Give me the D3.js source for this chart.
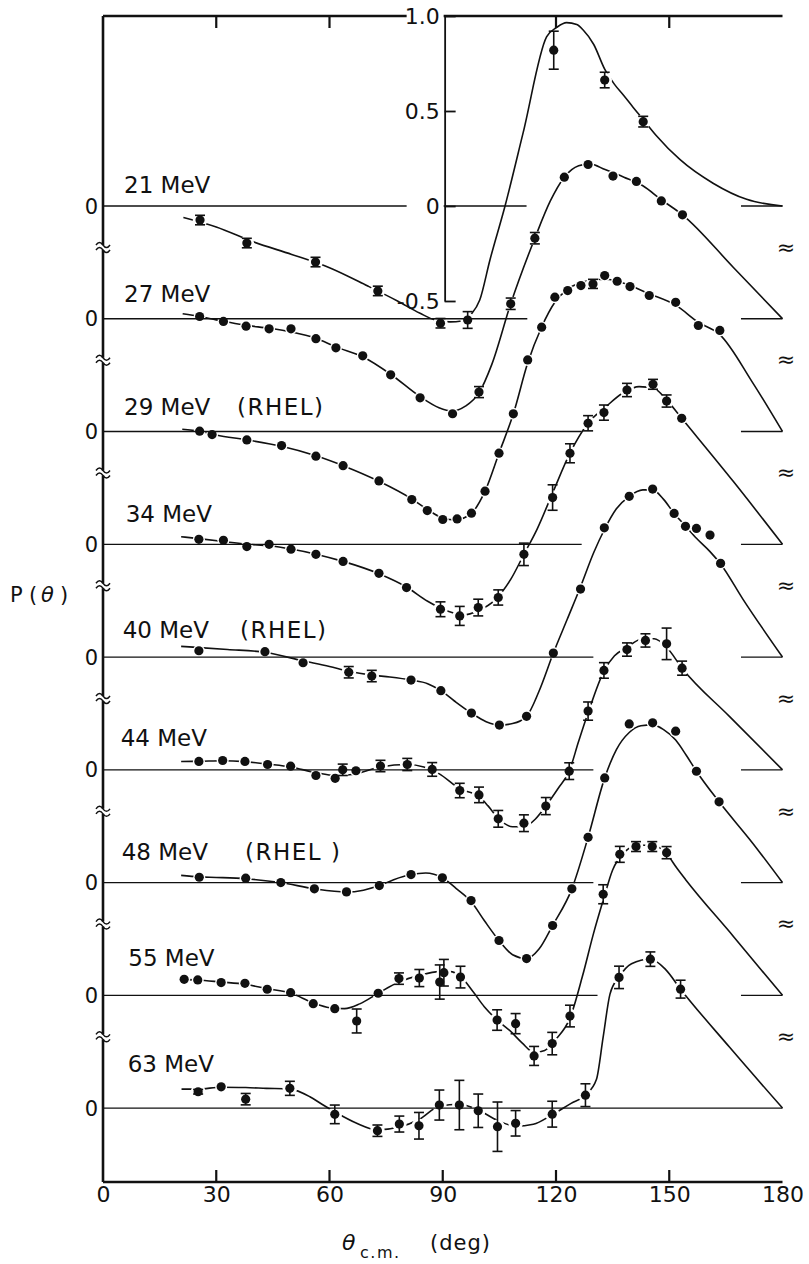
<!DOCTYPE html>
<html>
<head>
<meta charset="utf-8">
<script src="https://cdn.jsdelivr.net/npm/d3@7"></script>
<style>
  body { margin: 0; background: #fff; }
  svg text { font-family: "DejaVu Sans", "Liberation Sans", sans-serif; fill: #111; }
</style>
</head>
<body>
<svg width="809" height="1264"></svg>
<script>
// measured points: [theta c.m. (deg), P, error bar half height (0 = none)]
var pts21 = [[25.7,-0.074,0.025],[38.1,-0.195,0.025],[56.3,-0.295,0.025],[72.8,-0.447,0.025],[89.4,-0.617,0.025],
  [96.6,-0.600,0.044],[119.4,0.820,0.10],[132.9,0.663,0.041],[143.1,0.444,0.028]];
var pts27 = [[25.6,0.012,0],[31.9,-0.014,0],[37.9,-0.039,0],[44.0,-0.053,0],[49.8,-0.053,0],[56.4,-0.105,0],
  [61.7,-0.153,0],[68.8,-0.195,0],[76.2,-0.295,0],[84.0,-0.416,0],[92.6,-0.500,0],[99.6,-0.386,0.029],
  [108.0,0.079,0.03],[114.4,0.424,0.03],[122.2,0.745,0],[128.5,0.812,0],[135.1,0.751,0],[141.3,0.723,0],
  [147.9,0.620,0],[153.5,0.547,0]];
var pts29 = [[25.6,0.002,0],[28.9,-0.016,0],[38.1,-0.044,0],[47.3,-0.074,0],[56.4,-0.13,0],[63.6,-0.18,0],
  [73.1,-0.26,0],[81.8,-0.358,0],[85.9,-0.416,0],[90.0,-0.463,0],[93.8,-0.46,0],[97.6,-0.43,0],[101.2,-0.314,0],
  [104.9,-0.114,0],[108.7,0.093,0],[112.5,0.377,0],[116.2,0.549,0],[119.7,0.707,0],[123.1,0.742,0],
  [126.6,0.768,0],[129.8,0.777,0.024],[132.9,0.821,0],[136.2,0.791,0],[139.6,0.763,0],[144.7,0.716,0],
  [151.7,0.68,0],[157.7,0.558,0],[163.4,0.532,0]];
var pts34 = [[25.4,0.026,0],[31.9,0.021,0],[38.1,-0.012,0],[44.0,0.0,0],[49.8,-0.026,0],[56.4,-0.053,0],
  [63.6,-0.09,0],[73.1,-0.153,0],[80.4,-0.228,0],[89.4,-0.342,0.039],[94.5,-0.377,0.05],[99.4,-0.333,0.044],
  [104.7,-0.28,0.04],[111.5,-0.053,0.059],[119.1,0.246,0.067],[123.7,0.479,0.05],[128.5,0.637,0.04],
  [132.7,0.693,0.04],[138.8,0.812,0.035],[145.7,0.842,0.026],[149.3,0.754,0.032],[153.3,0.663,0]];
var pts40 = [[25.4,0.033,0],[42.9,0.028,0],[53.0,-0.03,0],[65.1,-0.08,0.03],[71.2,-0.10,0.03],[81.6,-0.121,0],
  [89.5,-0.177,0],[97.6,-0.295,0],[105.0,-0.358,0],[112.2,-0.312,0],[119.3,0.021,0],[126.5,0.358,0],
  [132.8,0.68,0],[139.4,0.846,0],[145.6,0.884,0],[151.3,0.756,0],[154.3,0.688,0],[157.2,0.677,0],
  [160.8,0.642,0],[163.6,0.493,0]];
var pts44 = [[25.4,0.044,0],[31.7,0.049,0],[37.6,0.044,0],[43.6,0.028,0],[49.7,0.019,0],[56.4,-0.03,0],
  [61.5,-0.045,0],[63.5,0.0,0.03],[67.0,-0.005,0],[73.5,0.02,0.03],[80.6,0.028,0.032],[87.2,0.002,0.036],
  [94.5,-0.109,0.038],[99.6,-0.132,0.041],[104.7,-0.258,0.044],[111.5,-0.281,0.044],[117.3,-0.191,0.045],
  [123.5,-0.007,0.044],[128.5,0.309,0.048],[132.7,0.523,0.041],[138.8,0.633,0.035],[143.7,0.681,0.035],
  [149.3,0.663,0.083],[153.4,0.535,0.037]];
var pts48 = [[25.5,0.028,0],[37.8,0.023,0],[47.1,0.0,0],[56.0,-0.033,0],[64.5,-0.049,0],[73.2,-0.016,0],
  [81.6,0.042,0],[89.9,0.025,0],[97.5,-0.095,0],[104.9,-0.305,0],[112.2,-0.40,0],[119.1,-0.226,0],
  [124.2,-0.033,0],[128.5,0.238,0],[132.9,0.551,0],[139.4,0.835,0],[145.6,0.841,0],[151.7,0.797,0],
  [157.2,0.586,0],[163.2,0.425,0]];
var pts55 = [[21.5,0.084,0],[25.1,0.081,0],[31.3,0.067,0],[37.6,0.063,0],[43.5,0.032,0],[49.7,0.014,0],
  [55.7,-0.044,0],[61.4,-0.07,0],[67.2,-0.135,0.063],[72.9,0.011,0],[78.4,0.088,0.03],[83.8,0.091,0.045],
  [89.2,0.07,0.09],[90.3,0.119,0.07],[94.7,0.096,0.057],[104.4,-0.13,0.054],[109.3,-0.149,0.053],
  [114.2,-0.319,0.05],[119.0,-0.254,0.059],[123.7,-0.109,0.057],[132.5,0.532,0.05],[136.9,0.742,0.042],
  [141.2,0.783,0.026],[145.5,0.783,0.026],[149.3,0.751,0.032]];
var pts63 = [[25.2,0.086,0.012],[31.3,0.112,0],[37.8,0.047,0.03],[49.5,0.104,0.037],[61.4,-0.033,0.049],
  [72.7,-0.119,0.03],[78.5,-0.084,0.042],[83.7,-0.093,0.07],[89.1,0.016,0.079],[94.4,0.016,0.13],
  [99.4,-0.014,0.088],[104.5,-0.098,0.13],[109.3,-0.08,0.067],[119.0,-0.032,0.068],[127.8,0.068,0.06],
  [136.7,0.688,0.059],[145.0,0.784,0.038],[153.0,0.626,0.047]];

// theory curves: [theta, P]
var fit21 = [[21.3,-0.06],[30,-0.11],[40,-0.19],[50,-0.255],[60,-0.325],[70,-0.42],[78,-0.5],[84,-0.565],
  [88,-0.6],[92,-0.61],[95,-0.605],[97.5,-0.57],[99.8,-0.495],[102.5,-0.284],[106.5,0.0],[111.3,0.386],
  [117.5,0.89],[120.2,0.94],[122.8,0.965],[125.5,0.955],[127.2,0.926],[130,0.85],[132.9,0.72],[135.5,0.64],
  [138,0.58],[140.4,0.52],[143.1,0.455],[146.6,0.37],[152.8,0.245],[161.6,0.12],[170.5,0.035],[180,0]];
var fit27 = [[21.1,0.026],[25.6,0.012],[30,-0.006],[37.9,-0.035],[44,-0.05],[50,-0.07],[56.4,-0.103],
  [61.7,-0.148],[68.8,-0.2],[76.2,-0.292],[84,-0.41],[89,-0.468],[92.5,-0.485],[96,-0.46],[99.6,-0.39],
  [103,-0.24],[108,0.079],[114.4,0.424],[118.5,0.62],[122.2,0.745],[126,0.805],[129,0.815],[133,0.785],
  [138,0.745],[143,0.7],[148,0.625],[153.5,0.547],[167,0.27],[180,0]];
var fit29 = [[21,0.012],[25.6,0.002],[30,-0.018],[38.1,-0.044],[47.3,-0.078],[56.4,-0.128],[63.6,-0.18],
  [73.1,-0.262],[81.8,-0.355],[85.9,-0.41],[90,-0.455],[93.5,-0.465],[97.6,-0.43],[101.2,-0.314],
  [104.9,-0.114],[108.7,0.093],[112.5,0.36],[116.2,0.55],[119.7,0.68],[123.1,0.75],[127,0.785],[131,0.8],
  [134,0.8],[138,0.78],[144.7,0.725],[151.7,0.665],[157.7,0.575],[163.4,0.51],[172,0.26],[180,0]];
var fit34 = [[20.7,0.04],[25.4,0.03],[31.9,0.015],[38.1,0.0],[44,-0.008],[49.8,-0.025],[56.4,-0.052],
  [63.6,-0.09],[73.1,-0.155],[80.4,-0.225],[86,-0.3],[91,-0.35],[95.5,-0.372],[99.4,-0.35],[104,-0.29],
  [108,-0.185],[111.5,-0.053],[115,0.08],[119.1,0.27],[123.7,0.48],[128.5,0.637],[133,0.72],[138,0.8],
  [142,0.83],[146,0.82],[149.3,0.76],[153.3,0.663],[167,0.33],[180,0]];
var fit40 = [[20.7,0.056],[25.4,0.05],[33,0.04],[42.9,0.025],[53,-0.02],[60,-0.05],[65.1,-0.075],
  [71.2,-0.095],[76,-0.105],[81.6,-0.121],[86,-0.14],[89.5,-0.177],[93,-0.23],[97.6,-0.295],[101.5,-0.34],
  [105,-0.358],[108.5,-0.35],[112.2,-0.312],[115.5,-0.18],[119.3,0.021],[123,0.2],[126.5,0.37],[130,0.55],
  [132.8,0.67],[136,0.78],[139.4,0.846],[143,0.88],[145.6,0.88],[148.5,0.83],[151.3,0.756],[154.3,0.69],
  [157.2,0.625],[160.8,0.555],[163.6,0.49],[169.5,0.305],[180,0]];
var fit44 = [[20.7,0.044],[25.4,0.045],[31.7,0.048],[37.6,0.043],[43.6,0.03],[49.7,0.015],[56.4,-0.015],
  [61.5,-0.03],[66,-0.025],[73.5,0.015],[80.6,0.028],[85,0.015],[89,-0.02],[94.5,-0.1],[99.6,-0.14],
  [102,-0.19],[104.7,-0.255],[108.5,-0.3],[111.5,-0.3],[114.5,-0.26],[117.3,-0.191],[120.5,-0.1],
  [123.5,-0.007],[126,0.15],[128.5,0.3],[132.7,0.52],[135.5,0.6],[138.8,0.645],[143,0.69],[146,0.69],
  [149.3,0.645],[153.4,0.535],[166,0.28],[180,0]];
var fit48 = [[20.7,0.038],[25.5,0.03],[30,0.027],[37.8,0.02],[47.1,0.0],[56,-0.033],[64.5,-0.05],[69,-0.04],
  [73.2,-0.016],[77,0.015],[81.6,0.042],[85.5,0.05],[89.9,0.025],[93.5,-0.03],[97.5,-0.1],[101,-0.2],
  [104.9,-0.305],[108.5,-0.38],[112.2,-0.4],[115.5,-0.35],[119.1,-0.226],[124.2,-0.033],[128.5,0.238],
  [132.9,0.551],[136,0.7],[139.4,0.79],[142.5,0.825],[145.6,0.83],[148.5,0.805],[151.7,0.75],[154.5,0.67],
  [157.2,0.586],[163.2,0.425],[172,0.21],[180,0]];
var fit55 = [[20.8,0.084],[25.1,0.081],[31.3,0.07],[37.6,0.058],[43.5,0.035],[49.7,0.012],[55.7,-0.04],
  [60,-0.065],[64,-0.07],[68,-0.045],[72.9,0.011],[78.4,0.07],[83.8,0.105],[89,0.125],[92,0.125],[94.7,0.1],
  [98,0.02],[101,-0.06],[104.4,-0.13],[108,-0.19],[111,-0.25],[114.2,-0.3],[117,-0.29],[120,-0.23],
  [123.7,-0.12],[127,0.1],[130,0.33],[132.5,0.5],[135,0.66],[138,0.75],[141.5,0.79],[145.5,0.79],
  [149.3,0.745],[152,0.67],[154.3,0.61],[167,0.31],[180,0]];
var fit63 = [[20.8,0.1],[25.2,0.1],[31.3,0.11],[37.8,0.108],[43.3,0.104],[49.5,0.1],[54.8,0.06],[58,0.02],
  [61.4,-0.02],[67.2,-0.08],[72.7,-0.115],[78.5,-0.1],[83.7,-0.06],[89.1,0.01],[94.4,0.02],[99.4,-0.01],
  [104.5,-0.065],[109.3,-0.095],[114,-0.085],[119,-0.035],[124,0.025],[127.8,0.068],[130.7,0.15],
  [132.5,0.375],[134.3,0.6],[136.7,0.69],[140,0.76],[145,0.785],[149,0.73],[153,0.626],[166,0.32],[180,0]];

var energies = ["21 MeV", "27 MeV", "29 MeV", "34 MeV", "40 MeV", "44 MeV", "48 MeV", "55 MeV", "63 MeV"];
var sources = ["", "", "(RHEL)", "", "(RHEL)", "", "(RHEL )", "", ""];
var xTicks = [0, 30, 60, 90, 120, 150, 180];
var bottomMarks = [30, 60, 90, 120, 150];
var topMarks = [30, 60, 120, 150];
var insetTicks = [1.0, 0.5, 0, -0.5];
var insetLabels = ["1.0", "0.5", "0", "-0.5"];

var points = [pts21, pts27, pts29, pts34, pts40, pts44, pts48, pts55, pts63];
var fits = [fit21, fit27, fit29, fit34, fit40, fit44, fit48, fit55, fit63];

// layout of the stacked panels
var labelX = [124, 124, 124, 125.7, 122.7, 120.7, 121.7, 128.3, 127.7];
var labelRise = [13, 17, 17, 22, 19, 24, 23, 29, 36];
var sourceX = [0, 0, 237, 0, 240, 0, 245, 0, 0];
var zeroCut = [112.2, 112.4, 126.8, 126.8, 129.9, 129.9, 129.9, 131, 180];
var zeroResume = 169;
var ink = "#111";

var svg = d3.select("svg");
var x = d3.scaleLinear().domain([0, 180]).range([103, 782.5]);
var y = d3.scaleLinear().domain([-5.137, 1]).range([1182, 16]);
var step = 0.5935;   // shift between successive energies, in units of P
function yp(p, i) { return y(p - i * step); }

// each curve is broken around its own data points
var defs = svg.append("defs");
points.forEach(function(pts, i) {
  var m = defs.append("mask").attr("id", "gap" + i).attr("maskUnits", "userSpaceOnUse")
      .attr("x", 0).attr("y", 0).attr("width", 809).attr("height", 1264);
  m.append("rect").attr("width", 809).attr("height", 1264).attr("fill", "#fff");
  m.selectAll("circle").data(pts).enter().append("circle")
      .attr("cx", function(d) { return x(d[0]); })
      .attr("cy", function(d) { return yp(d[1], i); })
      .attr("r", function(d) { return d[2] ? 7.3 : 6; })
      .attr("fill", "#000");
});

// zero lines
var zg = svg.append("g").attr("stroke", ink).attr("stroke-width", 1.3);
energies.forEach(function(e, i) {
  var segs = zeroCut[i] >= 180 ? [[0, 180]] : [[0, zeroCut[i]], [zeroResume, 180]];
  segs.forEach(function(s) {
    zg.append("line")
        .attr("x1", x(s[0])).attr("x2", x(s[1]))
        .attr("y1", yp(0, i)).attr("y2", yp(0, i));
  });
});

// curves
var line = d3.line().curve(d3.curveMonotoneX).x(function(d) { return x(d[0]); });
fits.forEach(function(f, i) {
  svg.append("path").datum(f)
      .attr("d", line.y(function(d) { return yp(d[1], i); }))
      .attr("fill", "none")
      .attr("stroke", ink)
      .attr("stroke-width", 1.6)
      .attr("mask", "url(#gap" + i + ")");
});

// frame: left axis, top line, bottom axis
var frame = svg.append("g").attr("stroke", ink).attr("stroke-width", 2.6);
frame.append("line").attr("x1", x(0)).attr("x2", x(0)).attr("y1", 16).attr("y2", 1182);
frame.append("line").attr("x1", x(0)).attr("x2", x(180)).attr("y1", 16).attr("y2", 16);
frame.append("line").attr("x1", x(0)).attr("x2", x(180)).attr("y1", 1182).attr("y2", 1182);

var marks = svg.append("g").attr("stroke", ink).attr("stroke-width", 2.2);
marks.selectAll(".tb").data(bottomMarks).enter().append("line").attr("class", "tb")
    .attr("x1", function(d) { return x(d); }).attr("x2", function(d) { return x(d); })
    .attr("y1", 1182).attr("y2", 1170);
marks.selectAll(".tt").data(topMarks).enter().append("line").attr("class", "tt")
    .attr("x1", function(d) { return x(d); }).attr("x2", function(d) { return x(d); })
    .attr("y1", 16).attr("y2", 28);

var gx = svg.append("g").attr("transform", "translate(0,1182)")
    .call(d3.axisBottom(x).tickValues(xTicks).tickSize(0).tickPadding(4));
gx.select(".domain").remove();
gx.selectAll(".tick text").attr("font-size", 22).attr("font-family", null).attr("fill", ink);

// inset scale for the 21 MeV curve
var yInset = d3.scaleLinear().domain([-0.5, 1]).range([yp(-0.5, 0), yp(1, 0)]);
var gIn = svg.append("g").attr("transform", "translate(" + x(90.5) + ",0)")
    .call(d3.axisLeft(yInset).tickValues(insetTicks).tickSize(-11).tickSizeOuter(0).tickPadding(5)
      .tickFormat(function(d, k) { return insetLabels[k]; }));
gIn.select(".domain").attr("stroke", ink).attr("stroke-width", 1.8);
gIn.selectAll(".tick line").attr("stroke", ink).attr("stroke-width", 1.8);
gIn.selectAll(".tick").filter(function(d) { return d === 1 || d === 0; })
    .insert("rect", "text").attr("x", -38).attr("y", -11).attr("width", 37).attr("height", 22).attr("fill", "#fff");
gIn.selectAll(".tick text").attr("font-size", 22).attr("font-family", null).attr("fill", ink);

// data points with error bars
points.forEach(function(pts, i) {
  var g = svg.append("g");
  var eb = g.selectAll(".eb").data(pts.filter(function(d) { return d[2] > 0; })).enter().append("g")
      .attr("stroke", ink).attr("stroke-width", 1.6);
  eb.append("line")
      .attr("x1", function(d) { return x(d[0]); }).attr("x2", function(d) { return x(d[0]); })
      .attr("y1", function(d) { return yp(d[1] + d[2], i); })
      .attr("y2", function(d) { return yp(d[1] - d[2], i); });
  [1, -1].forEach(function(s) {
    eb.append("line")
        .attr("x1", function(d) { return x(d[0]) - 5; }).attr("x2", function(d) { return x(d[0]) + 5; })
        .attr("y1", function(d) { return yp(d[1] + s * d[2], i); })
        .attr("y2", function(d) { return yp(d[1] + s * d[2], i); });
  });
  g.selectAll("circle").data(pts).enter().append("circle")
      .attr("cx", function(d) { return x(d[0]); })
      .attr("cy", function(d) { return yp(d[1], i); })
      .attr("r", 4.6)
      .attr("fill", ink);
});

// energy labels, zero labels and break marks
energies.forEach(function(e, i) {
  var z = yp(0, i);
  svg.append("text").attr("x", labelX[i]).attr("y", z - labelRise[i])
      .attr("font-size", 23).text(e);
  if (sources[i]) {
    svg.append("text").attr("x", sourceX[i]).attr("y", z - labelRise[i])
        .attr("font-size", 23).attr("letter-spacing", 1.5).text(sources[i]);
  }
  svg.append("text").attr("x", 98).attr("y", z).attr("dy", "0.36em")
      .attr("text-anchor", "end").attr("font-size", 21).text("0");
  if (i < energies.length - 1) {
    var b = z + 41;
    svg.append("rect").attr("x", x(0) - 3).attr("y", b - 2).attr("width", 6).attr("height", 5).attr("fill", "#fff");
    [-2, 3].forEach(function(o) {
      svg.append("path")
          .attr("d", "M" + (x(0) - 7) + "," + (b + o) + " q3.5,-5 7,0 t7,0")
          .attr("fill", "none").attr("stroke", ink).attr("stroke-width", 1.5);
    });
    svg.append("text").attr("x", 786).attr("y", b).attr("dy", "0.35em")
        .attr("text-anchor", "middle").attr("font-size", 22).text("\u2248");
  }
});

// axis titles
var pl = svg.append("text").attr("x", 10).attr("y", 602).attr("font-size", 21);
pl.append("tspan").text("P");
pl.append("tspan").attr("x", 29).text("(");
pl.append("tspan").attr("x", 41).attr("font-style", "italic").text("\u03b8");
pl.append("tspan").attr("x", 60).text(")");

var xt = svg.append("text").attr("x", 342).attr("y", 1250).attr("font-size", 22);
xt.append("tspan").attr("font-style", "italic").text("\u03b8");
xt.append("tspan").attr("x", 360).attr("dy", 8).attr("font-size", 16).attr("letter-spacing", 1.5).text("c.m.");
xt.append("tspan").attr("x", 430).attr("dy", -8).attr("font-size", 21).attr("letter-spacing", 1).text("(deg)");
</script>
</body>
</html>
